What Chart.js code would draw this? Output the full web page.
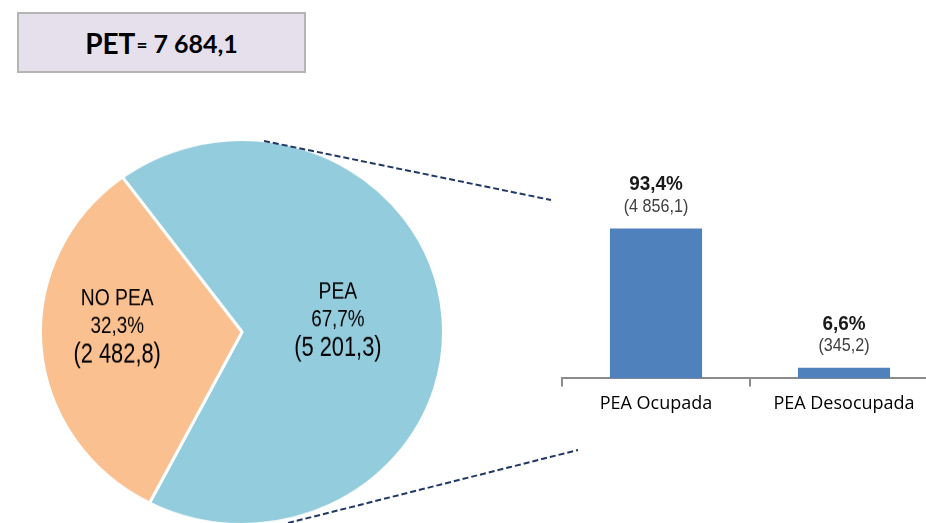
<!DOCTYPE html>
<html lang="es">
<head>
<meta charset="UTF-8">
<title>PET - PEA</title>
<script src="https://cdn.jsdelivr.net/npm/chart.js"></script>
<style>
    html, body { margin: 0; padding: 0; background: #fff; }
    body { width: 926px; height: 523px; position: relative; overflow: hidden; }
    .pet {
        position: absolute; left: 17px; top: 12px; width: 285px; height: 57px;
        background: #e5e0ec; border: 2px solid #b4b4b4;
        display: flex; align-items: center; justify-content: center;
        font-family: Lato, "Open Sans", sans-serif; font-weight: bold; color: #000;
    }
    .pet .big { font-size: 28px; }
    .pet .eq { font-size: 19px; margin: 3px 6px 0 1px; }
    .pet .num { font-size: 25px; }
    #pieWrap {
        position: absolute; left: 37px; top: 127px; width: 410px; height: 410px;
        transform: scaleY(0.955); transform-origin: 205px 205px;
    }
    #barChart { position: absolute; left: 560px; top: 160px; }
    svg { position: absolute; left: 0; top: 0; pointer-events: none; }
</style>
</head>
<body>
    <div class="pet"><span class="big">PET</span><span class="eq">=</span><span class="num" id="petNum"></span></div>

    <div id="pieWrap"><canvas id="pieChart" width="410" height="410"></canvas></div>
    <canvas id="barChart" width="380" height="262"></canvas>

    <svg width="926" height="523">
        <line x1="264" y1="141" x2="551" y2="200" stroke="#1f3864" stroke-width="2" stroke-dasharray="6 3" />
        <line x1="288" y1="523" x2="578" y2="450" stroke="#1f3864" stroke-width="2" stroke-dasharray="6 3" />
    </svg>

<script>
    // datos
    const petTotal = '7 684,1';
    const pieCats = ['PEA', 'NO PEA'];
    const piePct = [67.7, 32.3];
    const pieAbs = ['5 201,3', '2 482,8'];
    const barCats = ['PEA Ocupada', 'PEA Desocupada'];
    const barPct = [93.4, 6.6];
    const barAbs = ['4 856,1', '345,2'];

    // Liberation Sans comprimida en x para imitar una fuente "narrow"
    const sans = '"Liberation Sans", Arial, sans-serif';
    const coma = v => v.toFixed(1).replace('.', ',');

    document.getElementById('petNum').textContent = petTotal;

    // ajuste de posicion de las etiquetas dentro del pie
    const pieLabelPos = [{ f: 0.48, da: -3 }, { f: 0.62, da: 7 }];
    const yScale = 0.955;

    function narrowText(ctx, txt, y, size, sx) {
        ctx.save();
        ctx.scale(sx, 1);
        ctx.font = size + 'px ' + sans;
        ctx.fillText(txt, 0, y);
        ctx.restore();
    }

    const pieLabels = {
        id: 'pieLabels',
        afterDatasetsDraw(chart) {
            const ctx = chart.ctx;
            chart.getDatasetMeta(0).data.forEach((arc, i) => {
                const p = arc.getProps(['x', 'y', 'startAngle', 'endAngle', 'outerRadius'], true);
                const a = (p.startAngle + p.endAngle) / 2 + pieLabelPos[i].da * Math.PI / 180;
                const r = p.outerRadius * pieLabelPos[i].f;
                ctx.save();
                ctx.translate(p.x + Math.cos(a) * r, p.y + Math.sin(a) * r);
                ctx.scale(1, 1 / yScale);
                ctx.fillStyle = '#000';
                ctx.textAlign = 'center';
                ctx.textBaseline = 'middle';
                narrowText(ctx, pieCats[i], -28, 23, 0.84);
                narrowText(ctx, coma(piePct[i]) + '%', 0, 23, 0.82);
                narrowText(ctx, '(' + pieAbs[i] + ')', 28, 28, 0.78);
                ctx.restore();
            });
        }
    };

    new Chart(document.getElementById('pieChart'), {
        type: 'pie',
        data: {
            labels: pieCats,
            datasets: [{
                data: piePct,
                backgroundColor: ['#93cddd', '#fac090'],
                borderColor: '#ffffff',
                borderWidth: 3
            }]
        },
        options: {
            responsive: false,
            animation: false,
            rotation: -36.4,
            layout: { padding: 2 },
            plugins: { legend: { display: false }, tooltip: { enabled: false } }
        },
        plugins: [pieLabels]
    });

    const barLabels = {
        id: 'barLabels',
        afterDatasetsDraw(chart) {
            const ctx = chart.ctx;
            chart.getDatasetMeta(0).data.forEach((bar, i) => {
                ctx.save();
                ctx.textAlign = 'center';
                ctx.textBaseline = 'middle';
                ctx.translate(bar.x, bar.y);
                ctx.fillStyle = '#1a1a1a';
                ctx.save();
                ctx.scale(0.9, 1);
                ctx.font = 'bold 21px ' + sans;
                ctx.fillText(coma(barPct[i]) + '%', 0, -44);
                ctx.restore();
                ctx.fillStyle = '#404040';
                narrowText(ctx, '(' + barAbs[i] + ')', -22, 19, 0.85);
                ctx.restore();
            });
        }
    };

    new Chart(document.getElementById('barChart'), {
        type: 'bar',
        data: {
            labels: barCats,
            datasets: [{
                data: barPct,
                backgroundColor: '#4f81bd',
                categoryPercentage: 1,
                barPercentage: 0.49
            }]
        },
        options: {
            responsive: false,
            animation: false,
            layout: { padding: { left: 2, right: 2, top: 58, bottom: 0 } },
            scales: {
                x: {
                    grid: { offset: true, drawOnChartArea: false, drawTicks: true, tickLength: 8, color: '#8c8c8c', lineWidth: 2 },
                    border: { display: true, color: '#8c8c8c', width: 2 },
                    ticks: { color: '#000', padding: 7, font: { family: '"Open Sans", sans-serif', size: 18 } }
                },
                y: { display: false, min: 0, max: 100 }
            },
            plugins: { legend: { display: false }, tooltip: { enabled: false } }
        },
        plugins: [barLabels]
    });
</script>
</body>
</html>
